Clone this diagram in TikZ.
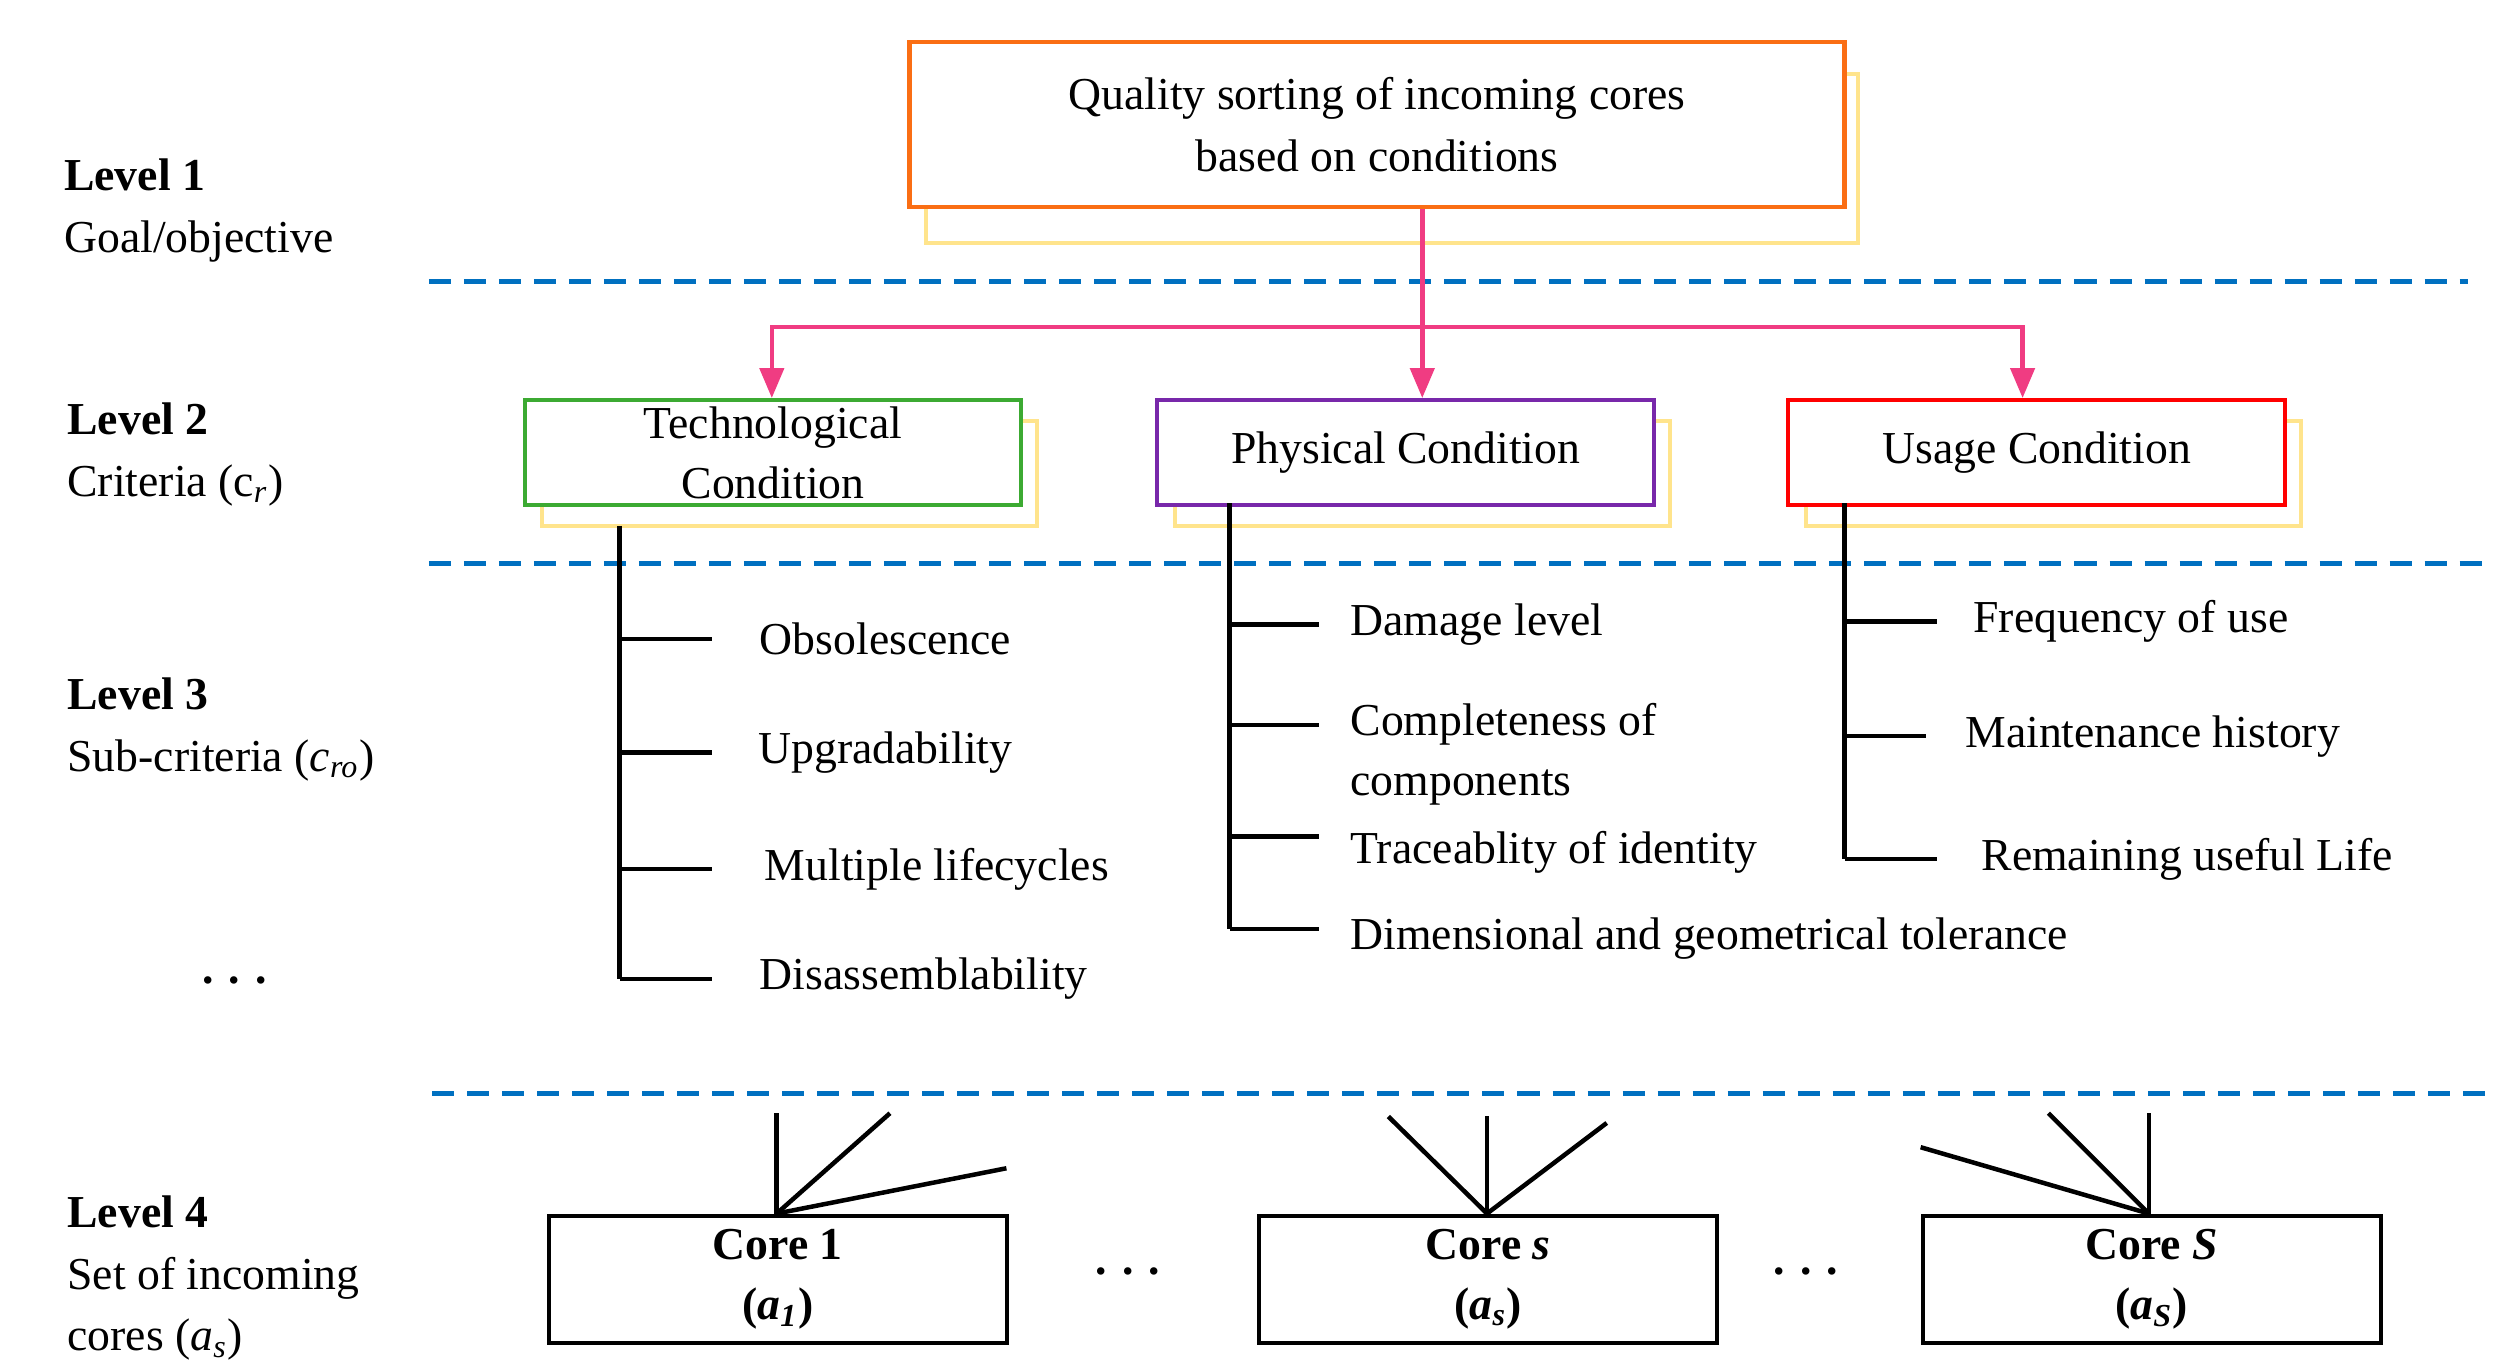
\documentclass[tikz,border=0pt]{standalone}
\usepackage{fontspec}
\setmainfont{Liberation Serif}
\usetikzlibrary{positioning,arrows.meta}
\definecolor{dashCol}{RGB}{0,112,192}
\definecolor{pinkCol}{RGB}{240,60,130}
\definecolor{shadowCol}{RGB}{255,228,140}
\definecolor{orangeCol}{RGB}{250,110,20}
\definecolor{greenCol}{RGB}{60,170,50}
\definecolor{purpleCol}{RGB}{120,40,170}
\tikzset{myLevel/.style={anchor=west, align=left, font=\fontsize{13}{17.5}\selectfont}}
\tikzset{myText/.style={anchor=west, align=left, font=\fontsize{13}{17}\selectfont}}
\tikzset{myDash/.style={color=dashCol, line width=0.5mm, dash pattern=on 2.2mm off 1.3mm}}
\tikzset{myArrow/.style={color=pinkCol, line width=0.45mm, -{Triangle[length=3mm,width=2.4mm]}}}
\tikzset{myTree/.style={color=black, line width=0.45mm}}
\tikzset{myShadow/.style={draw=shadowCol, line width=0.4mm}}

\begin{document}
\begin{tikzpicture}[x=0.01618cm, y=-0.01618cm]
	\useasboundingbox (0,0) rectangle (1550,845);

	% level labels
	\node[myLevel] (l1) at (32,130) {\textbf{Level 1}\\Goal/objective};
	\node[myLevel] (l2) at (34,281) {\textbf{Level 2}\\Criteria (c\textsubscript{\itshape r})};
	\node[myLevel] (l3) at (34,451) {\textbf{Level 3}\\Sub-criteria (\textit{c\textsubscript{ro}})};
	\node[myLevel] (l4) at (34,790) {\textbf{Level 4}\\Set of incoming\\cores (\textit{a\textsubscript{s}})};
	\node[myText, anchor=center] (d1) at (145,606) {\textbf{.\,\,.\,\,.}};

	% dashed separators
	\draw[myDash](265,174)--(1525,174);
	\draw[myDash](265,348)--(1540,348);
	\draw[myDash](267,676)--(1540,676);

	% goal
	\draw[myShadow](572,46) rectangle (1148,150);
	\node[draw=orangeCol, line width=0.45mm, fill=white, minimum width=578*0.01618cm, minimum height=102*0.01618cm, align=center, font=\fontsize{13}{17.5}\selectfont] (goal) at (851,77) {Quality sorting of incoming cores\\based on conditions};

	% criteria
	\foreach \x/\c/\name/\txt in {323/greenCol/tech/{Technological\\Condition}, 714/purpleCol/phys/{Physical Condition}, 1104/red/usage/{Usage Condition}}{
		\draw[myShadow](\x+12,260) rectangle (\x+318,325);
		\node[draw=\c, line width=0.4mm, fill=white, anchor=north west, minimum width=307*0.01618cm, minimum height=65*0.01618cm, align=center, inner sep=0pt, font=\fontsize{13}{17}\selectfont] (\name) at (\x,246) {\txt};
	}

	% arrows
	\coordinate (split) at (879,202);
	\draw[myArrow](goal.south -| split)--(split)--(phys.north -| split);
	\draw[myArrow](split)--(477,202)--(tech.north -| 477,0);
	\draw[myArrow](split)--(1250,202)--(usage.north -| 1250,0);

	% sub-criteria
	\draw[myTree](383,325)--(383,605);
	\foreach \y/\xt/\txt in {395/466/Obsolescence, 465/465/Upgradability, 537/469/Multiple lifecycles, 605/466/Disassemblability}{
		\draw[myTree](383,\y)--(440,\y);
		\node[myText] at (\xt-4,\y) {\txt};
	}
	\draw[myTree](760,311)--(760,574);
	\foreach \y/\ty/\txt in {386/386/Damage level, 448/466/{Completeness of\\components}, 517/527/Traceablity of identity, 574/580/Dimensional and geometrical tolerance}{
		\draw[myTree](760,\y)--(815,\y);
		\node[myText] at (827,\ty) {\txt};
	}
	\draw[myTree](1140,311)--(1140,531);
	\foreach \y/\xe/\xt/\txt in {384/1197/1216/Frequency of use, 455/1190/1211/Maintenance history, 531/1197/1221/Remaining useful Life}{
		\draw[myTree](1140,\y)--(\xe,\y);
		\node[myText] at (\xt-4,\y) {\txt};
	}

	% cores
	\foreach \x/\name/\lab/\sub in {338/coreA/Core 1/1, 777/coreB/{Core \textit{s}}/s, 1187/coreC/{Core \textit{S}}/S}{
		\node[draw, line width=0.4mm, anchor=north west, minimum width=283*0.01618cm, minimum height=79*0.01618cm, inner sep=0pt, align=center, font=\fontsize{13}{17}\selectfont\bfseries] (\name) at (\x,750) {\lab\\(\textit{a}\textsubscript{\itshape\sub})};
	}
	\node[myText, anchor=center] (d2) at (697,786) {\textbf{.\,\,.\,\,.}};
	\node[myText, anchor=center] (d3) at (1116,786) {\textbf{.\,\,.\,\,.}};
	\foreach \n/\px in {coreA/480, coreB/919, coreC/1328}{
		\coordinate (\n-top) at (\n.north -| \px,0);
	}
	\foreach \x/\y in {480/688, 550/688, 622/722}{ \draw[myTree](coreA-top)--(\x,\y); }
	\foreach \x/\y in {858/690, 919/690, 993/694}{ \draw[myTree](coreB-top)--(\x,\y); }
	\foreach \x/\y in {1187/709, 1266/688, 1328/688}{ \draw[myTree](coreC-top)--(\x,\y); }
\end{tikzpicture}
\end{document}
